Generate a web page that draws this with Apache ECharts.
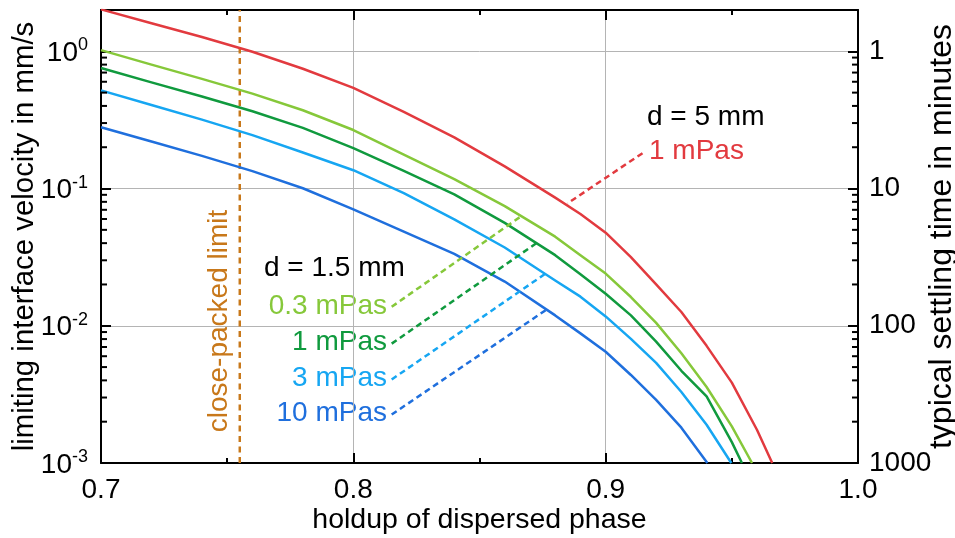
<!DOCTYPE html>
<html>
<head>
<meta charset="utf-8">
<script src="https://cdn.jsdelivr.net/npm/echarts@6/dist/echarts.min.js"></script>
<style>html,body{margin:0;padding:0;background:#fff}#c{width:955px;height:538px}</style>
</head>
<body>
<div id="c"></div>
<script>
// ---- data ----
const holdupRed   = [0.70,0.72,0.74,0.76,0.78,0.80,0.82,0.84,0.86,0.88,0.89,0.90,0.91,0.92,0.93,0.94,0.95,0.96,0.966];
const velRed      = [2.02,1.60,1.27,0.993,0.746,0.542,0.362,0.236,0.145,0.0859,0.0653,0.0477,0.0316,0.020,0.0126,0.00714,0.00385,0.00174,0.001];
const holdupLG    = [0.70,0.72,0.74,0.76,0.78,0.80,0.82,0.84,0.86,0.88,0.89,0.90,0.91,0.92,0.93,0.94,0.95,0.958];
const velLG       = [1.02,0.80,0.63,0.492,0.372,0.267,0.177,0.117,0.0745,0.0446,0.0327,0.024,0.0162,0.0105,0.0063,0.00358,0.00185,0.001];
const holdupDG    = [0.70,0.72,0.74,0.76,0.78,0.80,0.82,0.84,0.86,0.88,0.89,0.90,0.91,0.92,0.93,0.94,0.95,0.954];
const velDG       = [0.756,0.594,0.468,0.366,0.277,0.197,0.1346,0.0908,0.0562,0.0327,0.0237,0.0171,0.0119,0.00766,0.0047,0.00306,0.00142,0.001];
const holdupLB    = [0.70,0.72,0.74,0.76,0.78,0.80,0.82,0.84,0.86,0.88,0.89,0.90,0.91,0.92,0.93,0.94,0.9498];
const velLB       = [0.519,0.406,0.318,0.245,0.183,0.136,0.0927,0.0596,0.0372,0.0214,0.0163,0.0117,0.00803,0.00536,0.00329,0.0019,0.001];
const holdupB     = [0.70,0.72,0.74,0.76,0.78,0.80,0.82,0.84,0.86,0.88,0.89,0.90,0.91,0.92,0.93,0.9403];
const velB        = [0.28,0.22,0.173,0.134,0.1005,0.0705,0.0485,0.0334,0.021,0.0119,0.0088,0.00647,0.00438,0.00288,0.00181,0.001];

const closePackedLimit = 0.755;
const velRange = [0.001, 2];
// leader lines: [holdup1, vel1, holdup2, vel2]
const leaderRed = [0.9146, 0.181, 0.8849, 0.078];
const leaderLG  = [0.8152, 0.01375, 0.866, 0.0619];
const leaderDG  = [0.8152, 0.00741, 0.8729, 0.0404];
const leaderLB  = [0.8152, 0.00406, 0.877, 0.0246];
const leaderB   = [0.8152, 0.002254, 0.8769, 0.01324];

const yMinorTicks = [0.002,0.003,0.004,0.005,0.006,0.007,0.008,0.009,
                     0.02,0.03,0.04,0.05,0.06,0.07,0.08,0.09,
                     0.2,0.3,0.4,0.5,0.6,0.7,0.8,0.9];

const FONT = '"Liberation Sans", Arial, Helvetica, sans-serif';
const C = {red:'#e23a3f', lg:'#86c83a', dg:'#109a3e', lb:'#16a6f2', b:'#1f6fdd', or:'#c8781a'};

function pairs(xs, ys){ return xs.map((x,i)=>[x, ys[i]]); }
function leader(l, color){
  return {
    silent:true, symbol:['none','none'], animation:false,
    label:{show:false},
    lineStyle:{color:color, type:[6,4], width:2.5},
    data:[[{coord:[l[0],l[1]]},{coord:[l[2],l[3]]}]]
  };
}
function isPow10(v){ const e = Math.round(Math.log10(v)); return Math.abs(v/Math.pow(10,e) - 1) < 1e-6; }

const chart = echarts.init(document.getElementById('c'), null, {renderer:'canvas'});
const axisLineStyle = {color:'#000', width:2};
const curve = (name, xs, ys, color, extra) => Object.assign({
  type:'line', name:name, data:pairs(xs, ys), showSymbol:false, symbol:'none',
  lineStyle:{color:color, width:2.5, join:'round'}, itemStyle:{color:color}, z:3
}, extra || {});
const option = {
  animation:false,
  backgroundColor:'#fff',
  textStyle:{fontFamily:FONT},
  grid:{left:101, right:97, top:10, bottom:75, containLabel:false, outerBoundsMode:'none'},
  xAxis:[{
    type:'value', min:0.7, max:1.0, interval:0.1, position:'bottom',
    name:'holdup of dispersed phase', nameLocation:'middle', nameGap:43, nameMoveOverlap:false,
    nameTextStyle:{fontSize:28.5, color:'#000', fontFamily:FONT},
    axisLine:{show:true, onZero:false, lineStyle:axisLineStyle},
    axisTick:{show:true, inside:true, length:10, lineStyle:{color:'#000', width:2}},
    minorTick:{show:true, splitNumber:2, length:5, lineStyle:{color:'#000', width:2}},
    axisLabel:{fontSize:28, color:'#000', margin:13, fontFamily:FONT, formatter:v=>v.toFixed(1)},
    splitLine:{show:true, lineStyle:{color:'#b4b4b4', width:1}}
  },{
    type:'value', min:0.7, max:1.0, interval:0.1, position:'top',
    axisLine:{show:true, onZero:false, lineStyle:axisLineStyle},
    axisTick:{show:true, inside:true, length:10, lineStyle:{color:'#000', width:2}},
    minorTick:{show:true, splitNumber:2, length:5, lineStyle:{color:'#000', width:2}},
    axisLabel:{show:false}, splitLine:{show:false}
  }],
  yAxis:[{
    type:'log', logBase:10, min:velRange[0], max:velRange[1], position:'left',
    name:'limiting interface velocity in mm/s', nameLocation:'middle', nameGap:62, nameRotate:90, nameMoveOverlap:false,
    nameTextStyle:{fontSize:29.4, color:'#000', fontFamily:FONT},
    axisLine:{show:true, onZero:false, lineStyle:axisLineStyle},
    axisTick:{show:true, inside:true, length:10, lineStyle:{color:'#000', width:2}},
    axisLabel:{
      margin:13, color:'#000', fontFamily:FONT,
      formatter:v=>{ if(!isPow10(v)) return ''; const e=Math.round(Math.log10(v)); return '{b|10}{s|'+e+'}'; },
      rich:{
        b:{fontSize:28, lineHeight:30, padding:[4,0,0,0], color:'#000', fontFamily:FONT},
        s:{fontSize:18, lineHeight:18, verticalAlign:'top', color:'#000', fontFamily:FONT}
      }
    },
    splitLine:{show:true, lineStyle:{color:'#b4b4b4', width:1}}
  },{
    type:'log', logBase:10, min:0.5, max:1000, inverse:true, position:'right',
    name:'typical settling time in minutes', nameLocation:'middle', nameGap:68, nameRotate:90, nameMoveOverlap:false,
    nameTextStyle:{fontSize:32, color:'#000', fontFamily:FONT},
    axisLine:{show:true, onZero:false, lineStyle:axisLineStyle},
    axisTick:{show:true, inside:true, length:10, lineStyle:{color:'#000', width:2}},
    axisLabel:{margin:11, fontSize:28, color:'#000', fontFamily:FONT,
      formatter:v=> isPow10(v) ? String(Math.round(v)) : ''},
    splitLine:{show:false}
  }],
  series:[
    {type:'line', name:'close-packed limit', data:[[closePackedLimit, velRange[0]],[closePackedLimit, velRange[1]]],
     showSymbol:false, symbol:'none', silent:true, z:2,
     lineStyle:{color:C.or, type:[6,4.5], width:2.5}, itemStyle:{color:C.or}},
    curve('d = 5 mm, 1 mPas', holdupRed, velRed, C.red, {markLine:leader(leaderRed, C.red)}),
    curve('0.3 mPas', holdupLG, velLG, C.lg, {markLine:leader(leaderLG, C.lg)}),
    curve('1 mPas', holdupDG, velDG, C.dg, {markLine:leader(leaderDG, C.dg)}),
    curve('3 mPas', holdupLB, velLB, C.lb, {markLine:leader(leaderLB, C.lb)}),
    curve('10 mPas', holdupB, velB, C.b, {markLine:leader(leaderB, C.b)}),
    {type:'custom', name:'minor ticks', silent:true, z:5,
     data: yMinorTicks.map(v=>[0.7, v]),
     renderItem:(params, api)=>{
       const v = api.value(1);
       const l = api.coord([0.7, v]);
       const r = api.coord([1.0, v]);
       return {type:'group', children:[
         {type:'line', shape:{x1:l[0], y1:l[1], x2:l[0]+6, y2:l[1]}, style:{stroke:'#000', lineWidth:2}},
         {type:'line', shape:{x1:r[0], y1:r[1], x2:r[0]-6, y2:r[1]}, style:{stroke:'#000', lineWidth:2}}
       ]};
     }}
  ],
  graphic:[
    {type:'text', x:647, y:117, style:{text:'d = 5 mm', font:'28px '+FONT, fill:'#000', textAlign:'left', textVerticalAlign:'middle'}},
    {type:'text', x:649, y:151, style:{text:'1 mPas', font:'28px '+FONT, fill:C.red, textAlign:'left', textVerticalAlign:'middle'}},
    {type:'text', x:264, y:268, style:{text:'d = 1.5 mm', font:'28px '+FONT, fill:'#000', textAlign:'left', textVerticalAlign:'middle'}},
    {type:'text', x:387, y:306, style:{text:'0.3 mPas', font:'28px '+FONT, fill:C.lg, textAlign:'right', textVerticalAlign:'middle'}},
    {type:'text', x:387, y:342, style:{text:'1 mPas', font:'28px '+FONT, fill:C.dg, textAlign:'right', textVerticalAlign:'middle'}},
    {type:'text', x:387, y:378, style:{text:'3 mPas', font:'28px '+FONT, fill:C.lb, textAlign:'right', textVerticalAlign:'middle'}},
    {type:'text', x:387, y:413, style:{text:'10 mPas', font:'28px '+FONT, fill:C.b, textAlign:'right', textVerticalAlign:'middle'}},
    {type:'text', x:219, y:321, rotation:Math.PI/2, style:{text:'close-packed limit', font:'28px '+FONT, fill:C.or, textAlign:'center', textVerticalAlign:'middle'}}
  ]
};
chart.setOption(option);
</script>
</body>
</html>
